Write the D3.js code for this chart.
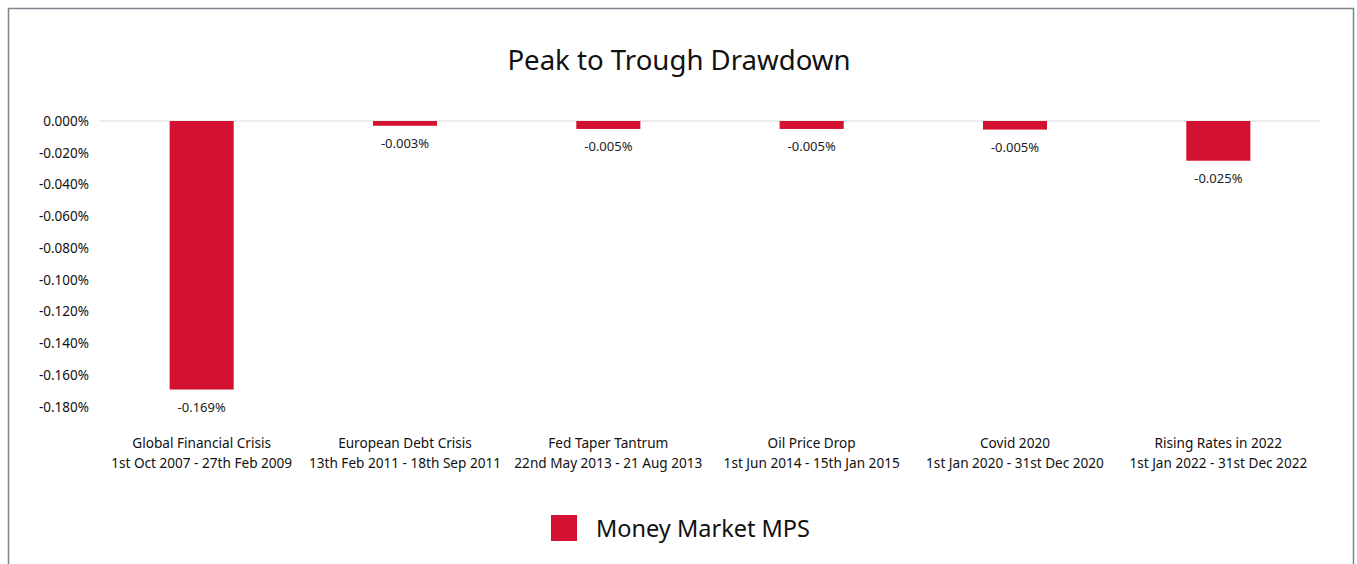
<!DOCTYPE html>
<html>
<head>
<meta charset="utf-8">
<script src="https://cdn.jsdelivr.net/npm/d3@7"></script>
<style>
  body { margin: 0; background: #fff; }
  svg { display: block; }
</style>
</head>
<body>
<svg id="chart" width="1357" height="564"></svg>
<script>
// Drawdown per market event, in percent
const events = ["Global Financial Crisis", "European Debt Crisis", "Fed Taper Tantrum", "Oil Price Drop", "Covid 2020", "Rising Rates in 2022"]
const periods = ["1st Oct 2007 - 27th Feb 2009", "13th Feb 2011 - 18th Sep 2011", "22nd May 2013 - 21 Aug 2013", "1st Jun 2014 - 15th Jan 2015", "1st Jan 2020 - 31st Dec 2020", "1st Jan 2022 - 31st Dec 2022"]
const drawdown = [-0.169, -0.003, -0.005, -0.005, -0.0054, -0.025]
const yTicks = [0, -0.02, -0.04, -0.06, -0.08, -0.1, -0.12, -0.14, -0.16, -0.18]
const seriesName = "Money Market MPS"

const barColor = "#d31130"
const font = "'Noto Sans', sans-serif"

// excel style: plain hyphen instead of the unicode minus
function pct(v) {
    return d3.format(".3f")(v).replace("\u2212", "-") + "%"
}

var svg = d3.select("#chart")

// outer frame
svg.append("rect")
    .attr("x", 8.5).attr("y", 8.5)
    .attr("width", 1345).attr("height", 570)
    .attr("fill", "none")
    .attr("stroke", "#7f858f")
    .attr("stroke-width", 1.5)

svg.append("text")
    .attr("x", 679).attr("y", 70)
    .attr("text-anchor", "middle")
    .attr("font-family", font)
    .attr("font-size", 27.6)
    .attr("fill", "#111")
    .text("Peak to Trough Drawdown")

var x = d3.scaleBand().domain(events).range([100, 1320]).paddingInner(0.685).paddingOuter(0.3425)
var y = d3.scaleLinear().domain([-0.18, 0]).range([407, 121])

// zero line
svg.append("line")
    .attr("x1", 100).attr("x2", 1320)
    .attr("y1", y(0)).attr("y2", y(0))
    .attr("stroke", "#d9d9d9")

var yAxis = d3.axisLeft(y)
    .tickValues(yTicks)
    .tickSize(0)
    .tickPadding(11)
    .tickFormat(pct)

svg.append("g")
    .attr("transform", "translate(100,0)")
    .call(yAxis)
    .call(g => g.select(".domain").remove())
    .selectAll("text")
    .attr("font-family", font)
    .attr("font-size", 13.5)
    .attr("fill", "#111")

var data = events.map((e, i) => ({event: e, period: periods[i], value: drawdown[i]}))

svg.selectAll(".bar")
    .data(data)
    .enter()
    .append("rect")
    .attr("class", "bar")
    .attr("x", d => x(d.event))
    .attr("width", x.bandwidth())
    .attr("y", y(0))
    .attr("height", d => y(d.value) - y(0))
    .attr("fill", barColor)

svg.selectAll(".value")
    .data(data)
    .enter()
    .append("text")
    .attr("class", "value")
    .attr("x", d => x(d.event) + x.bandwidth() / 2)
    .attr("y", d => y(d.value) + 22)
    .attr("text-anchor", "middle")
    .attr("font-family", font)
    .attr("font-size", 13)
    .attr("fill", "#222")
    .text(d => pct(d.value))

var cat = svg.selectAll(".cat")
    .data(data)
    .enter()
    .append("text")
    .attr("class", "cat")
    .attr("text-anchor", "middle")
    .attr("font-family", font)
    .attr("font-size", 13.6)
    .attr("fill", "#111")

cat.append("tspan")
    .attr("x", d => x(d.event) + x.bandwidth() / 2)
    .attr("y", 448)
    .text(d => d.event)
cat.append("tspan")
    .attr("x", d => x(d.event) + x.bandwidth() / 2)
    .attr("y", 468)
    .text(d => d.period)

// legend
svg.append("rect")
    .attr("x", 551).attr("y", 515)
    .attr("width", 26).attr("height", 26)
    .attr("fill", barColor)
svg.append("text")
    .attr("x", 596).attr("y", 537)
    .attr("font-family", font)
    .attr("font-size", 23.5)
    .attr("fill", "#111")
    .text(seriesName)
</script>
</body>
</html>
